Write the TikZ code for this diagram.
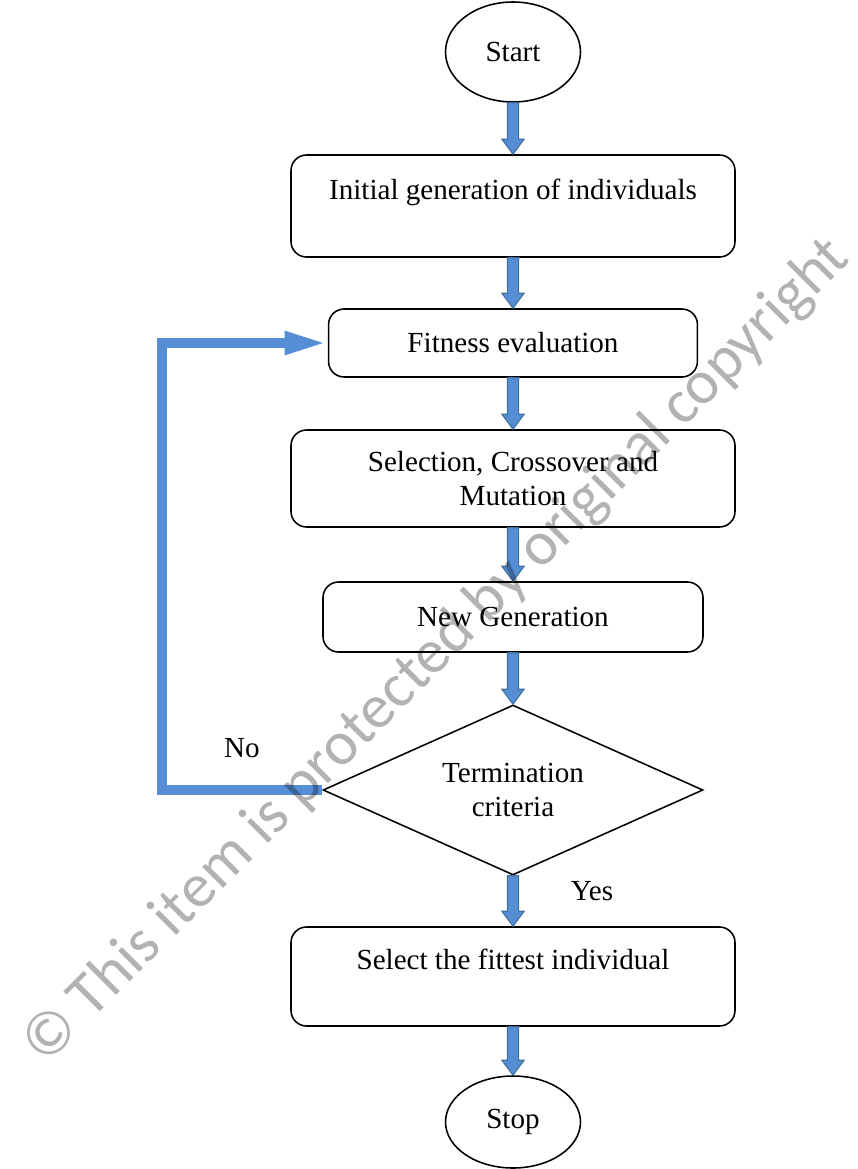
\documentclass[tikz,border=0pt]{standalone}
\usepackage{fontspec}
\setmainfont{Liberation Serif}
\newfontfamily\markfont{Carlito}
\usetikzlibrary{shapes.geometric,arrows.meta,calc}
\definecolor{flowblue}{RGB}{85,142,213}
\definecolor{flowedge}{RGB}{65,113,156}

\begin{document}
\begin{tikzpicture}[x=0.45pt,y=-0.45pt,
	every node/.style={font=\fontsize{13.1}{15.3}\selectfont},
	terminal/.style={ellipse,draw,line width=0.7pt,minimum width=60.75pt,inner sep=0pt},
	process/.style={rectangle,rounded corners=7pt,draw,line width=0.7pt,align=center,inner sep=0pt},
	decision/.style={diamond,draw,line width=0.7pt,aspect=2.2,align=center,inner sep=0pt,minimum width=171pt,minimum height=76.5pt},
	downarrow/.style={draw=flowedge,fill=flowblue,line width=0.5pt,
		to path={let \p1=(\tikztostart), \p2=(\tikztotarget) in
			(\x2-2.5pt,\y1) -- (\x2+2.5pt,\y1) -- (\x2+2.5pt,\y2+6.75pt) -- (\x2+5pt,\y2+6.75pt)
			-- (\x2,\y2) -- (\x2-5pt,\y2+6.75pt) -- (\x2-2.5pt,\y2+6.75pt) -- cycle}},
	feedback/.style={draw=flowblue,line width=4.5pt,-{Triangle[length=19.4pt,width=9.5pt]}}]
	\useasboundingbox (0,0) rectangle (858,1169);
	% flow chart blocks
	\node[terminal,minimum height=45pt] (start) at (513,52) {Start};
	\node[process,minimum width=199.8pt,minimum height=45.9pt] (init) at (513,206) {Initial generation of individuals\\ \mbox{}};
	\node[process,minimum width=166pt,minimum height=30.6pt] (fit) at (513,343) {Fitness evaluation};
	\node[process,minimum width=199.8pt,minimum height=43.65pt] (sel) at (513,478.5) {Selection, Crossover and\\ Mutation};
	\node[process,minimum width=171pt,minimum height=31.5pt] (newgen) at (513,617) {New Generation};
	\node[decision] (dec) at (513,790) {Termination\\ criteria};
	\node[process,minimum width=199.8pt,minimum height=44.55pt] (pick) at (513,976.5) {Select the fittest individual\\ \mbox{}};
	\node[terminal,minimum height=41.4pt] (stop) at (513,1122) {Stop};
	\node (nolabel) at (242,748) {No};
	\node (yeslabel) at (592,891) {Yes};
	\coordinate (loopcorner) at (162,343);
	% arrows
	\draw[downarrow] (start.south) to (init.north);
	\draw[downarrow] (init.south) to (fit.north);
	\draw[downarrow] (fit.south) to (sel.north);
	\draw[downarrow] (sel.south) to (newgen.north);
	\draw[downarrow] (newgen.south) to (dec.north);
	\draw[downarrow] (dec.south) to (pick.north);
	\draw[downarrow] (pick.south) to (stop.north);
	\draw[feedback] (dec.west) -| (loopcorner) -- (fit.west);
	% watermark
	\node[font=\markfont\fontsize{28}{32}\selectfont,text=black,text opacity=0.3,rotate=45] (wmark) at (437,652) {© This item is protected by original copyright};
\end{tikzpicture}
\end{document}
